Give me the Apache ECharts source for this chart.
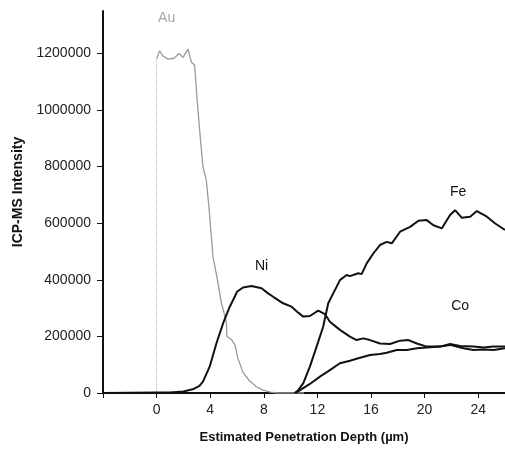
<!DOCTYPE html>
<html>
<head>
<meta charset="utf-8">
<script src="https://cdn.jsdelivr.net/npm/echarts@6/dist/echarts.min.js"></script>
<style>
html, body { margin: 0; padding: 0; background: #fff; }
#chart { width: 505px; height: 449px; }
</style>
</head>
<body>
<div id="chart"></div>
<script>
// depth (um) and ICP-MS intensity
var auX = [0, 0, 0.22, 0.5, 0.85, 1.3, 1.67, 1.97, 2.34, 2.59, 2.84, 2.97, 3.21, 3.46, 3.71, 3.9, 4.21, 4.5, 4.84, 5.21, 5.25, 5.6, 5.85, 6.05, 6.45, 6.9, 7.45, 7.95, 8.5, 9, 11];
var auY = [0, 1180000, 1209000, 1190000, 1180000, 1183000, 1200000, 1186000, 1215000, 1170000, 1158000, 1070000, 929000, 799000, 752000, 660000, 481000, 410000, 318000, 250000, 200000, 188000, 170000, 125000, 72000, 45000, 22000, 10000, 3000, 0, 0];

var niX = [-4, 0, 1, 2, 2.7, 3.2, 3.46, 3.96, 4.46, 4.96, 5.46, 5.83, 6.0, 6.45, 7.08, 7.83, 8.32, 8.7, 9.44, 10.07, 10.57, 10.94, 11.44, 12.06, 12.56, 12.93, 13.68, 14.43, 14.93, 15.42, 15.93, 16.67, 17.42, 18.17, 18.79, 19.42, 20.16, 21.16, 21.9, 22.9, 23.65, 24.4, 25.14, 26];
var niY = [0, 2000, 2000, 5000, 13000, 25000, 40000, 93000, 175000, 246000, 305000, 340000, 358000, 373000, 378000, 370000, 352000, 340000, 317000, 305000, 284000, 270000, 272000, 291000, 279000, 252000, 223000, 199000, 187000, 193000, 187000, 175000, 173000, 185000, 187000, 175000, 164000, 164000, 170000, 158000, 152000, 154000, 152000, 158000];

var feX = [10.3, 10.57, 10.94, 11.44, 11.94, 12.43, 12.81, 13.18, 13.43, 13.68, 14.18, 14.43, 15.05, 15.3, 15.68, 16.17, 16.67, 17.17, 17.55, 18.17, 18.92, 19.54, 20.16, 20.66, 21.29, 21.9, 22.28, 22.78, 23.4, 23.9, 24.65, 25.27, 26];
var feY = [0, 10000, 34000, 93000, 164000, 234000, 317000, 352000, 375000, 399000, 417000, 413000, 423000, 420000, 458000, 493000, 523000, 534000, 529000, 570000, 587000, 609000, 611000, 593000, 582000, 629000, 646000, 619000, 623000, 643000, 623000, 599000, 576000];

var coX = [10.4, 10.7, 11.44, 12.19, 12.93, 13.68, 14.43, 15.05, 15.93, 16.67, 17.17, 17.92, 18.67, 19.42, 20.16, 21.16, 21.9, 22.65, 23.65, 24.4, 25.14, 26];
var coY = [0, 10000, 32000, 58000, 81000, 105000, 114000, 123000, 134000, 138000, 142000, 152000, 152000, 158000, 161000, 164000, 173000, 166000, 164000, 161000, 164000, 164000];

var yTicks = [0, 200000, 400000, 600000, 800000, 1000000, 1200000];

// curve name tags, placed in data units
var tagNames = ["Au", "Ni", "Fe", "Co"];
var tagAt = [[0.75, 1324000], [7.83, 447000], [22.5, 711000], [22.65, 306000]];

function pairs(xs, ys) {
	var out = [];
	for (var i = 0; i < xs.length; i++) out.push([xs[i], ys[i]]);
	return out;
}

function tag(i, color) {
	return {
		symbol: "circle",
		symbolSize: 0,
		silent: true,
		label: {
			show: true,
			position: "inside",
			formatter: tagNames[i],
			color: color,
			fontSize: 14,
			fontFamily: "Liberation Sans"
		},
		data: [{ coord: tagAt[i] }]
	};
}

var chart = echarts.init(document.getElementById("chart"));

var font = "Liberation Sans";
var auPts = pairs(auX, auY);
var option = {
	animation: false,
	backgroundColor: "#fff",
	grid: { left: 103, right: 0, top: 11, bottom: 56, containLabel: false },
	xAxis: {
		type: "value",
		min: -4,
		max: 26,
		interval: 4,
		name: "Estimated Penetration Depth (\u00b5m)",
		nameLocation: "middle",
		nameGap: 38,
		nameTextStyle: { fontFamily: font, fontWeight: "bold", fontSize: 13, color: "#111" },
		axisLine: { onZero: false, lineStyle: { color: "#111", width: 2 } },
		axisTick: { length: 5, lineStyle: { color: "#111" } },
		axisLabel: {
			showMaxLabel: false,
			margin: 10,
			fontFamily: font,
			fontSize: 14,
			color: "#222",
			formatter: function(v) { return v < 0 ? "" : String(v); }
		},
		splitLine: { show: false }
	},
	yAxis: {
		type: "value",
		min: 0,
		max: 1350000,
		interval: 200000,
		name: "ICP-MS Intensity",
		nameLocation: "middle",
		nameRotate: 90,
		nameGap: 75,
		nameTextStyle: { fontFamily: font, fontWeight: "bold", fontSize: 14, color: "#111", padding: [0, 0, 0, 20] },
		axisLine: { show: true, onZero: false, lineStyle: { color: "#111", width: 2 } },
		axisTick: { show: true, length: 6, customValues: yTicks, lineStyle: { color: "#111" } },
		axisLabel: {
			margin: 12,
			fontFamily: font,
			fontSize: 14,
			color: "#222",
			customValues: yTicks,
			formatter: function(v) { return String(v); }
		},
		splitLine: { show: false }
	},
	series: [{
		// faint rising edge of the Au profile at depth 0
		name: "Au edge",
		type: "line",
		showSymbol: false,
		data: auPts.slice(0, 2),
		lineStyle: { color: "#b5b5b5", width: 1, type: "dotted" }
	}, {
		name: "Au",
		type: "line",
		showSymbol: false,
		data: auPts.slice(1),
		lineStyle: { color: "#999", width: 1.3 },
		markPoint: tag(0, "#a5a5a5")
	}, {
		name: "Ni",
		type: "line",
		showSymbol: false,
		data: pairs(niX, niY),
		lineStyle: { color: "#111", width: 2 },
		markPoint: tag(1, "#111")
	}, {
		name: "Fe",
		type: "line",
		showSymbol: false,
		data: pairs(feX, feY),
		lineStyle: { color: "#111", width: 2 },
		markPoint: tag(2, "#111")
	}, {
		name: "Co",
		type: "line",
		showSymbol: false,
		data: pairs(coX, coY),
		lineStyle: { color: "#111", width: 2 },
		markPoint: tag(3, "#111")
	}]
};
chart.setOption(option);
</script>
</body>
</html>
